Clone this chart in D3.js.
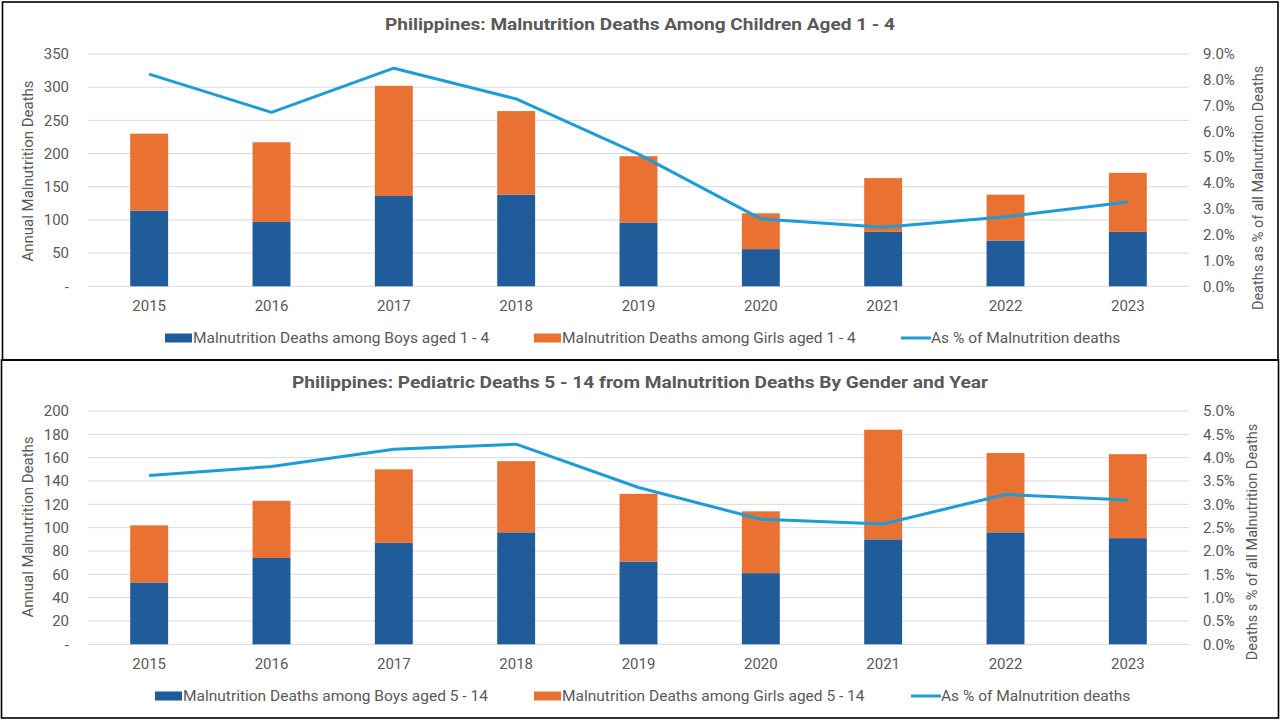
<!DOCTYPE html>
<html>
<head>
<meta charset="utf-8">
<script src="https://cdn.jsdelivr.net/npm/d3@7/dist/d3.min.js"></script>
<style>
  body { margin: 0; background: #fff; }
  svg { display: block; font-family: Roboto, "Open Sans", sans-serif; }
  text { fill: #595959; }
</style>
</head>
<body>
<svg width="1280" height="720"></svg>
<script>
var years = ["2015", "2016", "2017", "2018", "2019", "2020", "2021", "2022", "2023"];

// chart 1 : children 1 - 4
var boys14  = [114, 97, 136, 138, 96, 56, 82, 69, 82];
var girls14 = [116, 120, 166, 126, 100, 54, 81, 69, 89];
var pct14   = [8.22, 6.74, 8.45, 7.26, 5.12, 2.61, 2.29, 2.69, 3.27];
var ticks14 = [0, 50, 100, 150, 200, 250, 300, 350];
var pctTicks14 = [0, 1, 2, 3, 4, 5, 6, 7, 8, 9];

// chart 2 : children 5 - 14
var boys514  = [53, 74, 87, 96, 71, 61, 90, 96, 91];
var girls514 = [49, 49, 63, 61, 58, 53, 94, 68, 72];
var pct514   = [3.62, 3.81, 4.18, 4.29, 3.36, 2.68, 2.58, 3.21, 3.09];
var ticks514 = [0, 20, 40, 60, 80, 100, 120, 140, 160, 180, 200];
var pctTicks514 = [0, 0.5, 1, 1.5, 2, 2.5, 3, 3.5, 4, 4.5, 5];

var blue = "#1f5c99", orange = "#e97132", lineBlue = "#1e9cd7";

var svg = d3.select("svg");

// panel borders
svg.append("rect").attr("x", 2.5).attr("y", 2).attr("width", 1275.5).attr("height", 358)
    .attr("fill", "none").attr("stroke", "#000").attr("stroke-width", 1.6);
svg.append("rect").attr("x", 1.5).attr("y", 360).attr("width", 1277).attr("height", 358)
    .attr("fill", "none").attr("stroke", "#000").attr("stroke-width", 1.6);

function drawChart(c) {
  var g = svg.append("g");

  var x = d3.scaleBand().domain(years).range([88, 1189])
      .paddingInner(0.69).paddingOuter(0.345);
  var y = d3.scaleLinear().domain([0, c.max]).range([c.bottom, c.top]);
  var y2 = d3.scaleLinear().domain([0, c.pctMax]).range([c.bottom, c.top]);

  // gridlines
  g.append("g").selectAll("line").data(c.ticks).enter().append("line")
      .attr("x1", 88).attr("x2", 1189)
      .attr("y1", function(d) { return y(d); })
      .attr("y2", function(d) { return y(d); })
      .attr("stroke", "#d9d9d9").attr("stroke-width", 1);

  // left ticks
  g.append("g").selectAll("text").data(c.ticks).enter().append("text")
      .attr("x", 69).attr("y", function(d) { return y(d); })
      .attr("dy", "0.35em").attr("text-anchor", "end")
      .style("font-size", "15px")
      .text(function(d) { return d === 0 ? "-" : d; });

  // right ticks
  g.append("g").selectAll("text").data(c.pctTicks).enter().append("text")
      .attr("x", 1203).attr("y", function(d) { return y2(d); })
      .attr("dy", "0.35em")
      .style("font-size", "15px")
      .text(function(d) { return d.toFixed(1) + "%"; });

  // bars
  var rows = years.map(function(yr, i) { return { year: yr, boys: c.boys[i], girls: c.girls[i] }; });
  var stack = d3.stack().keys(["boys", "girls"])(rows);
  var colors = [blue, orange];
  g.append("g").selectAll("g").data(stack).enter().append("g")
      .attr("fill", function(d, i) { return colors[i]; })
    .selectAll("rect").data(function(d) { return d; }).enter().append("rect")
      .attr("x", function(d) { return x(d.data.year); })
      .attr("width", x.bandwidth())
      .attr("y", function(d) { return y(d[1]); })
      .attr("height", function(d) { return y(d[0]) - y(d[1]); });

  // line
  var line = d3.line()
      .x(function(d, i) { return x(years[i]) + x.bandwidth() / 2; })
      .y(function(d) { return y2(d); });
  g.append("path").datum(c.pct)
      .attr("d", line)
      .attr("fill", "none").attr("stroke", lineBlue)
      .attr("stroke-width", 3).attr("stroke-linejoin", "round");

  // x labels
  g.append("g").selectAll("text").data(years).enter().append("text")
      .attr("x", function(d) { return x(d) + x.bandwidth() / 2; })
      .attr("y", c.xLabelY).attr("dy", "0.35em")
      .attr("text-anchor", "middle")
      .style("font-size", "15px")
      .text(function(d) { return d; });

  // title
  g.append("text").attr("x", 640).attr("y", c.titleY).attr("dy", "0.35em")
      .attr("text-anchor", "middle")
      .attr("textLength", c.titleWidth).attr("lengthAdjust", "spacingAndGlyphs")
      .style("font-size", "16px").style("font-weight", "bold")
      .text(c.title);

  // axis titles
  g.append("text")
      .attr("transform", "translate(28," + c.leftTitleY + ") rotate(-90)")
      .attr("dy", "0.35em").attr("text-anchor", "middle")
      .style("font-size", "15px")
      .text("Annual Malnutrition Deaths");
  g.append("text")
      .attr("transform", "translate(" + c.rightTitleX + "," + c.rightTitleY + ") rotate(-90)")
      .attr("dy", "0.35em").attr("text-anchor", "middle")
      .style("font-size", "14.5px")
      .text(c.rightTitle);

  // legend
  var lg = g.append("g");
  var L = c.legend;
  lg.append("rect").attr("x", L[0]).attr("y", c.legendY - 4.5).attr("width", 27).attr("height", 9).attr("fill", blue);
  lg.append("rect").attr("x", L[1]).attr("y", c.legendY - 4.5).attr("width", 27).attr("height", 9).attr("fill", orange);
  lg.append("line").attr("x1", L[2]).attr("x2", L[2] + 30)
      .attr("y1", c.legendY).attr("y2", c.legendY)
      .attr("stroke", lineBlue).attr("stroke-width", 3);
  var labels = c.legendLabels;
  var lx = [L[0] + 28, L[1] + 28, L[2] + 30];
  lg.selectAll("text.lab").data(labels).enter().append("text")
      .attr("x", function(d, i) { return lx[i]; })
      .attr("y", c.legendY).attr("dy", "0.35em")
      .style("font-size", "15.5px")
      .text(function(d) { return d; });
}

drawChart({
  title: "Philippines: Malnutrition Deaths Among Children Aged 1 - 4",
  titleY: 24, titleWidth: 510,
  top: 54, bottom: 286.3, max: 350, pctMax: 9,
  ticks: ticks14, pctTicks: pctTicks14,
  boys: boys14, girls: girls14, pct: pct14,
  xLabelY: 306,
  leftTitleY: 171,
  rightTitle: "Deaths as % of all Malnutrition Deaths",
  rightTitleX: 1258, rightTitleY: 188,
  legendY: 338,
  legend: [165, 534, 901],
  legendLabels: ["Malnutrition Deaths among Boys aged 1 - 4",
                 "Malnutrition Deaths among Girls aged 1 - 4",
                 "As % of Malnutrition deaths"]
});

drawChart({
  title: "Philippines: Pediatric Deaths 5 - 14 from Malnutrition Deaths By Gender and Year",
  titleY: 382.5, titleWidth: 696,
  top: 411, bottom: 644.3, max: 200, pctMax: 5,
  ticks: ticks514, pctTicks: pctTicks514,
  boys: boys514, girls: girls514, pct: pct514,
  xLabelY: 664,
  leftTitleY: 527,
  rightTitle: "Deaths s % of all Malnutrition Deaths",
  rightTitleX: 1252, rightTitleY: 542,
  legendY: 696,
  legend: [155, 534, 911],
  legendLabels: ["Malnutrition Deaths among Boys aged 5 - 14",
                 "Malnutrition Deaths among Girls aged 5 - 14",
                 "As % of Malnutrition deaths"]
});
</script>
</body>
</html>
